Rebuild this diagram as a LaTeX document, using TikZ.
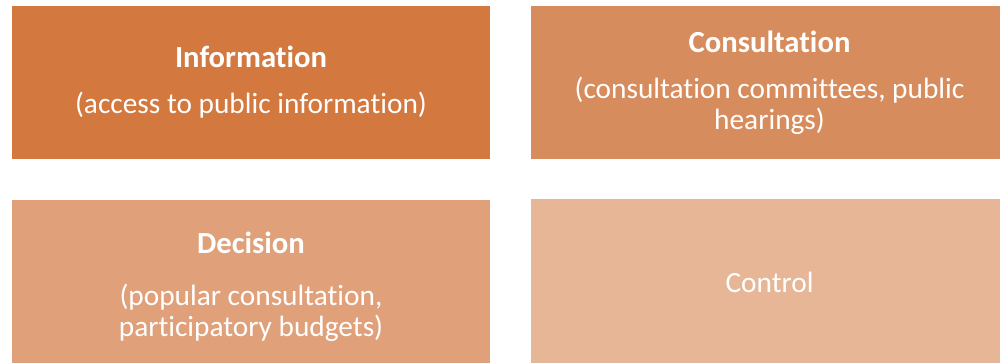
\documentclass[tikz,border=0pt]{standalone}
\usepackage{fontspec}
\setmainfont[Ligatures=NoCommon]{Carlito}
\usetikzlibrary{positioning}

\definecolor{infofill}{RGB}{211,120,63}
\definecolor{consfill}{RGB}{215,140,94}
\definecolor{decifill}{RGB}{223,160,122}
\definecolor{ctrlfill}{RGB}{230,182,151}

\newcommand{\boxhead}[2][11pt]{{\fontsize{23}{23}\selectfont\textbf{#2}}\\[#1]}

\begin{document}
\begin{tikzpicture}[x=0.75pt,y=-0.75pt,node distance=153.4pt and 388.9pt,on grid,
   box/.style={fill=#1,text=white,minimum width=358.5pt,minimum height=114.75pt,
     inner sep=0pt,align=center,font=\fontsize{22}{23.5}\selectfont},
   tall/.style={minimum height=131.25pt}]
   \useasboundingbox (0,0) rectangle (1000,363);
   \clip (0,0) rectangle (1000,363);
   \node[box=infofill] (info) at (251,82.5) {\boxhead{Information}(access to public information)};
   \node[box=consfill] (cons) [right=of info] {\boxhead{Consultation}(consultation committees, public\\hearings)};
   \node[box=decifill,tall] (deci) [below=of info] {\boxhead[15.5pt]{Decision}(popular consultation,\\participatory budgets)};
   \node[box=ctrlfill,minimum height=124.5pt] (ctrl) [right=of deci,yshift=3.4pt] {Control};
\end{tikzpicture}
\end{document}
